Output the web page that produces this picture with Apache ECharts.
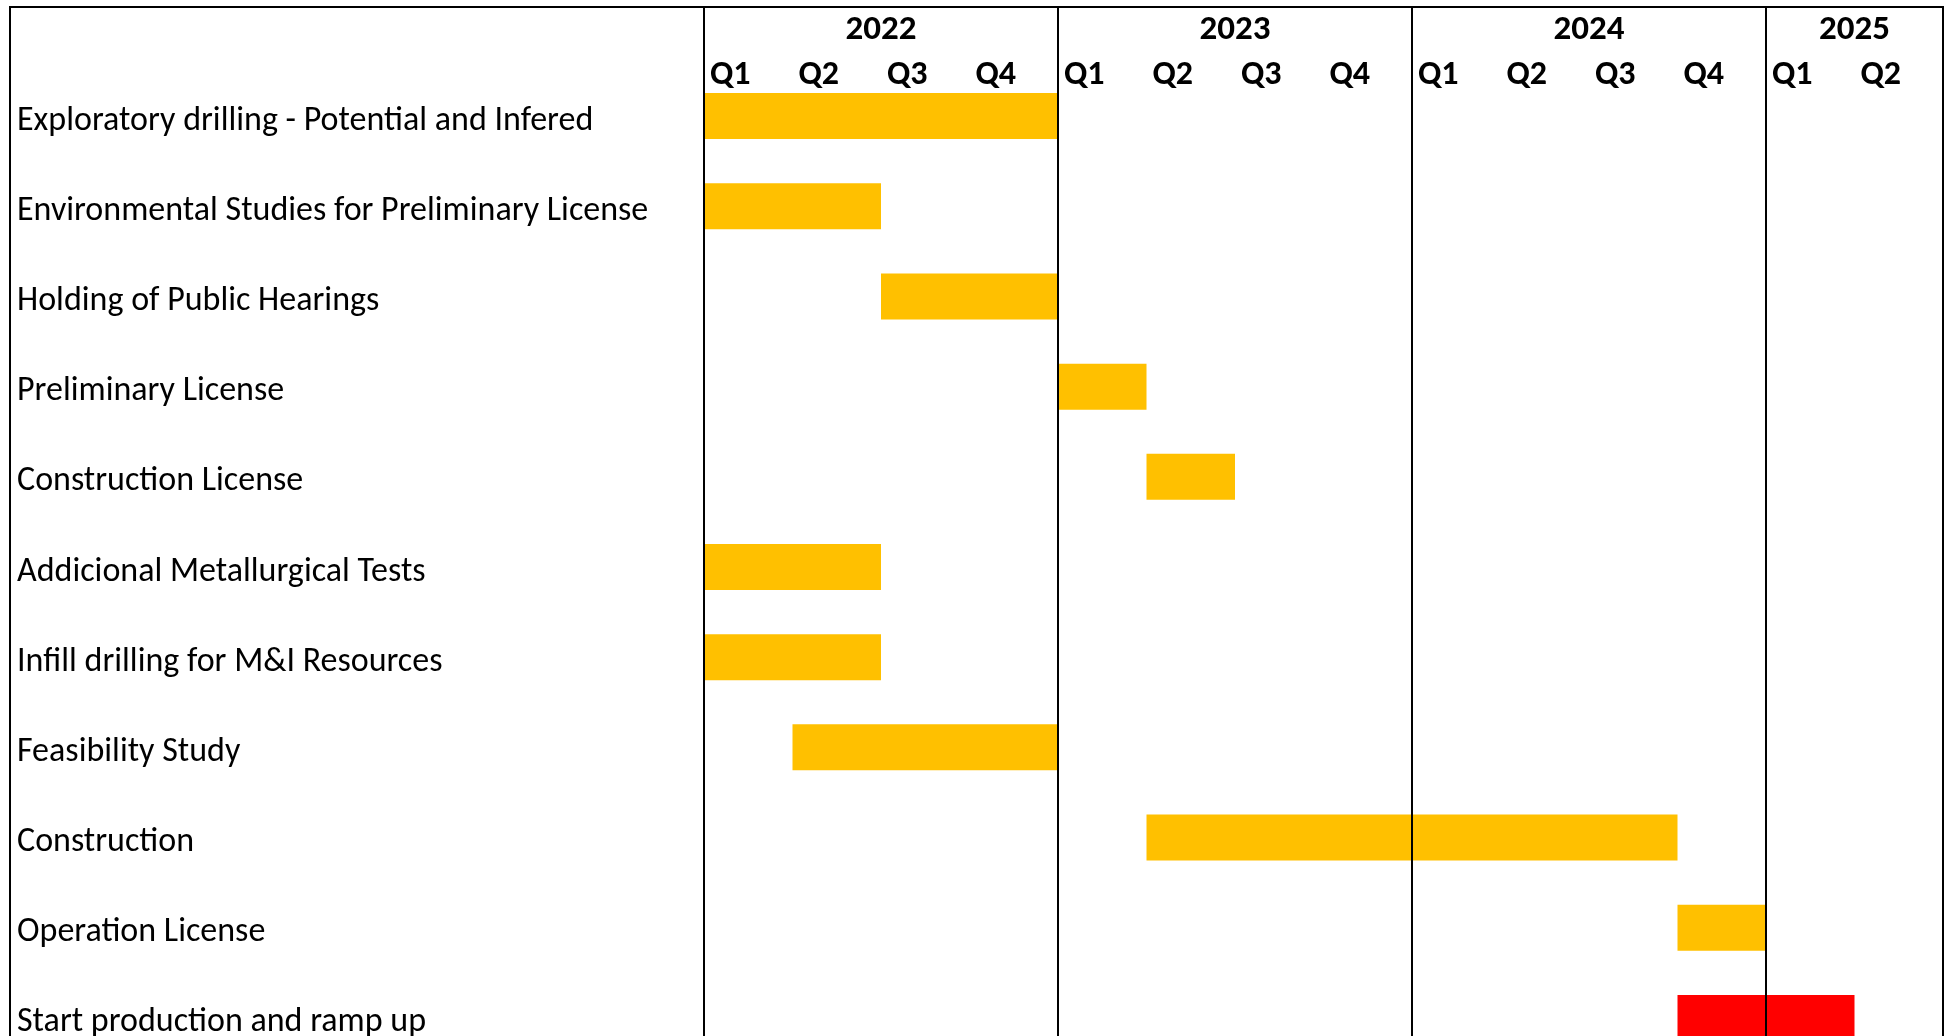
<!DOCTYPE html>
<html><head><meta charset="utf-8">
<script src="https://cdn.jsdelivr.net/npm/echarts@6/dist/echarts.min.js"></script>
<style>html,body{margin:0;padding:0;background:#fff}#c{width:1946px;height:1036px}</style>
</head><body><div id="c"></div>
<script>
const tasks = [
  'Exploratory drilling - Potential and Infered',
  'Environmental Studies for Preliminary License',
  'Holding of Public Hearings',
  'Preliminary License',
  'Construction License',
  'Addicional Metallurgical Tests',
  'Infill drilling for M&I Resources',
  'Feasibility Study',
  'Construction',
  'Operation License',
  'Start production and ramp up'
];
const startQuarter =       [0, 0, 2, 4, 5, 0, 0, 1, 5, 11, 11];
const plannedDuration =    [4, 2, 2, 1, 1, 2, 2, 3, 6, 1, 0];
const productionDuration = [0, 0, 0, 0, 0, 0, 0, 0, 0, 0, 2];
const quarterLabels = ['Q1','Q2','Q3','Q4','Q1','Q2','Q3','Q4','Q1','Q2','Q3','Q4','Q1','Q2'];
const years = ['2022', '2023', '2024', '2025'];
const yearStart = [0, 4, 8, 12];
const yearEnd = [4, 8, 12, 14];

const FONT = 'Carlito, Calibri, Lato, sans-serif';
const totalQ = quarterLabels.length;
const yearCenters = years.map((y, i) => (yearStart[i] + yearEnd[i]) / 2);
const boundaries = [0].concat(yearEnd);

const chart = echarts.init(document.getElementById('c'), null, {renderer: 'canvas'});
chart.setOption({
  animation: false,
  backgroundColor: '#ffffff',
  grid: [
    {left: 704, right: 3, top: 7, height: 64, outerBoundsMode: 'none', containLabel: false},
    {left: 704, right: 3, top: 71, height: 992, outerBoundsMode: 'none', containLabel: false}
  ],
  xAxis: [
    {gridIndex: 0, type: 'value', min: 0, max: totalQ, interval: 4, position: 'top',
     axisLine: {show: false}, axisTick: {show: false}, axisLabel: {show: false},
     splitLine: {show: true, lineStyle: {color: '#000', width: 2}}},
    {gridIndex: 0, type: 'value', min: 0, max: totalQ, interval: 1, position: 'bottom',
     axisLine: {show: false}, axisTick: {show: false}, splitLine: {show: false},
     axisLabel: {inside: true, margin: -4, align: 'left', verticalAlign: 'middle', padding: [0, 0, 0, 6],
       fontFamily: FONT, fontWeight: 'bold', fontSize: 34, color: '#000',
       showMinLabel: true, showMaxLabel: true,
       formatter: v => (v < totalQ ? quarterLabels[v] : '')}},
    {gridIndex: 0, type: 'value', min: 0, max: totalQ, position: 'top',
     axisLine: {show: false}, axisTick: {show: false}, splitLine: {show: false},
     axisLabel: {inside: true, margin: 23, verticalAlign: 'middle', customValues: yearCenters,
       fontFamily: FONT, fontWeight: 'bold', fontSize: 35, color: '#000',
       formatter: v => years[yearCenters.indexOf(v)]}},
    {gridIndex: 1, type: 'value', min: 0, max: totalQ, interval: 4,
     axisLine: {show: false}, axisTick: {show: false}, axisLabel: {show: false}, splitLine: {show: false}}
  ],
  yAxis: [
    {gridIndex: 0, type: 'value', show: false},
    {gridIndex: 1, type: 'category', inverse: true, data: tasks,
     axisLine: {show: false}, axisTick: {show: false}, splitLine: {show: false},
     axisLabel: {align: 'left', verticalAlign: 'middle', margin: 687,
       formatter: v => '{t|' + v + '}',
       rich: {t: {fontFamily: FONT, fontSize: 34, color: '#000', padding: [10, 0, 0, 0]}}}}
  ],
  graphic: [
    {type: 'rect', shape: {x: 10, y: 7, width: 1933, height: 1200}, silent: true, z: 100,
     style: {fill: 'none', stroke: '#000', lineWidth: 2}}
  ],
  series: [
    {type: 'bar', stack: 'g', xAxisIndex: 3, yAxisIndex: 1, data: startQuarter, barWidth: 46,
     itemStyle: {color: 'rgba(0,0,0,0)'}, silent: true},
    {type: 'bar', stack: 'g', xAxisIndex: 3, yAxisIndex: 1, data: plannedDuration, barWidth: 46,
     itemStyle: {color: '#FFC000'}},
    {type: 'bar', stack: 'g', xAxisIndex: 3, yAxisIndex: 1, data: productionDuration, barWidth: 46,
     itemStyle: {color: '#FF0000'},
     markLine: {silent: true, symbol: ['none', 'none'], label: {show: false},
       lineStyle: {color: '#000', width: 2, type: 'solid'},
       data: boundaries.map(b => ({xAxis: b}))}}
  ]
});
</script></body></html>
